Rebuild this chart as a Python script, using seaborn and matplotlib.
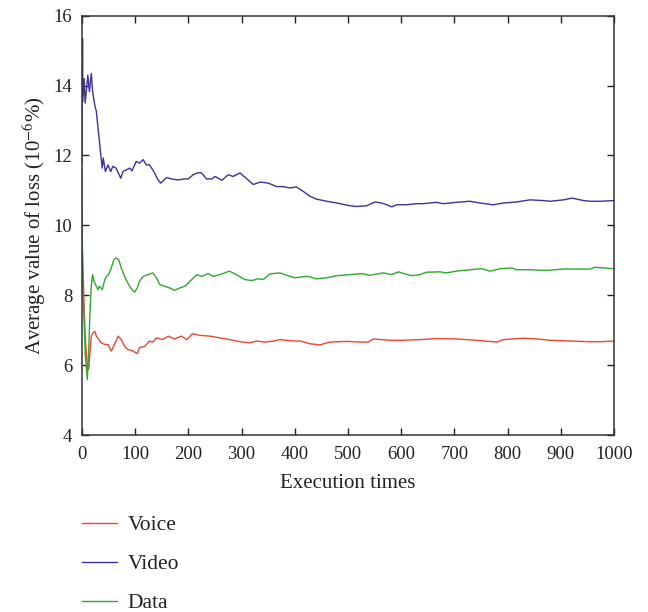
import matplotlib
matplotlib.use("Agg")
import matplotlib.pyplot as plt
import seaborn as sns
import pandas as pd

# Read-off data (execution times, average loss in 1e-6 %)
voice_x = [0, 1, 4, 6, 10, 12.5, 15, 17.5, 21, 24, 27, 31, 36, 43, 49, 55, 61, 68, 74, 80,
           86, 96, 104, 108, 118, 127, 133, 140, 152, 162, 174, 187, 197, 208, 222, 241,
           259, 278, 297, 316, 328, 344, 360, 372, 397, 410, 429, 447, 466, 498, 523, 538,
           548, 579, 598, 635, 667, 704, 742, 780, 792, 830, 855, 880, 917, 955, 974, 1000]
voice_y = [9.3, 9.26, 7.69, 6.83, 5.97, 5.88, 6.35, 6.83, 6.93, 6.97, 6.83, 6.75, 6.64, 6.59,
           6.59, 6.4, 6.59, 6.83, 6.73, 6.54, 6.45, 6.4, 6.33, 6.5, 6.54, 6.69, 6.66, 6.78,
           6.73, 6.83, 6.75, 6.83, 6.73, 6.9, 6.85, 6.83, 6.78, 6.73, 6.67, 6.64, 6.69, 6.66,
           6.69, 6.73, 6.69, 6.69, 6.61, 6.58, 6.66, 6.68, 6.66, 6.66, 6.75, 6.71, 6.71, 6.73,
           6.76, 6.75, 6.71, 6.66, 6.73, 6.77, 6.75, 6.71, 6.69, 6.67, 6.67, 6.69]

video_x = [0, 1, 1.5, 4, 6, 11, 14, 17.5, 20, 24, 27, 38, 40, 44, 49, 54, 58, 64, 73, 77, 90,
           94, 102, 108, 115, 121, 127, 135, 143, 148, 159, 168, 180, 193, 200, 209, 219,
           225, 234, 244, 250, 263, 275, 284, 297, 310, 322, 335, 350, 366, 378, 391, 403,
           416, 429, 441, 460, 479, 504, 516, 535, 551, 563, 573, 582, 592, 610, 629, 641,
           666, 679, 704, 729, 748, 773, 792, 817, 842, 867, 880, 905, 921, 943, 955, 974, 1000]
video_y = [11.8, 15.35, 13.54, 14.2, 13.5, 14.3, 13.83, 14.35, 13.83, 13.45, 13.26, 11.64,
           11.93, 11.54, 11.73, 11.54, 11.69, 11.64, 11.35, 11.54, 11.64, 11.56, 11.83, 11.78,
           11.88, 11.73, 11.73, 11.54, 11.3, 11.21, 11.37, 11.33, 11.3, 11.33, 11.33, 11.45,
           11.51, 11.5, 11.33, 11.33, 11.4, 11.29, 11.45, 11.4, 11.5, 11.33, 11.17, 11.24,
           11.21, 11.11, 11.11, 11.07, 11.1, 10.97, 10.83, 10.75, 10.69, 10.64, 10.56, 10.54,
           10.56, 10.67, 10.64, 10.59, 10.53, 10.59, 10.59, 10.62, 10.62, 10.66, 10.62, 10.66,
           10.69, 10.64, 10.59, 10.64, 10.67, 10.73, 10.71, 10.69, 10.73, 10.78, 10.71, 10.69,
           10.69, 10.71]

data_x = [0, 1, 4, 6, 10, 12.5, 15, 17.5, 20, 22.5, 27, 30, 33, 38, 43, 46, 50, 55, 60, 64,
          69, 74, 80, 86, 94, 99, 104, 108, 115, 124, 133, 140, 146, 155, 165, 174, 184, 194,
          203, 216, 225, 237, 247, 263, 277, 288, 297, 306, 319, 331, 341, 353, 372, 385, 400,
          416, 425, 441, 460, 479, 504, 526, 541, 566, 582, 595, 607, 620, 635, 648, 673, 685,
          704, 729, 751, 767, 786, 808, 817, 842, 873, 905, 930, 955, 964, 983, 1000]
data_y = [11.6, 8.45, 7.3, 6.35, 5.59, 6.35, 7.5, 8.26, 8.59, 8.4, 8.26, 8.16, 8.26, 8.16,
          8.45, 8.54, 8.59, 8.78, 9.02, 9.07, 9.02, 8.78, 8.54, 8.35, 8.16, 8.09, 8.21, 8.4,
          8.54, 8.59, 8.64, 8.5, 8.31, 8.26, 8.21, 8.14, 8.21, 8.26, 8.4, 8.59, 8.54, 8.62,
          8.54, 8.61, 8.69, 8.61, 8.53, 8.45, 8.42, 8.47, 8.45, 8.61, 8.64, 8.57, 8.5, 8.53,
          8.54, 8.47, 8.5, 8.56, 8.59, 8.62, 8.57, 8.64, 8.59, 8.67, 8.61, 8.56, 8.59, 8.66,
          8.67, 8.64, 8.69, 8.73, 8.76, 8.69, 8.76, 8.78, 8.73, 8.73, 8.71, 8.75, 8.75, 8.75,
          8.8, 8.78, 8.76]

series_names = ["Voice", "Video", "Data"]
colors = ["#ec4535", "#3b3399", "#2ea82e"]

x_ticks = list(range(0, 1001, 100))
y_ticks = list(range(4, 17, 2))

df = pd.concat([
    pd.DataFrame({"x": voice_x, "y": voice_y, "series": "Voice"}),
    pd.DataFrame({"x": video_x, "y": video_y, "series": "Video"}),
    pd.DataFrame({"x": data_x, "y": data_y, "series": "Data"}),
], ignore_index=True)

sns.set_style("ticks")
plt.rcParams["font.family"] = ["Liberation Serif", "DejaVu Serif"]
plt.rcParams["mathtext.fontset"] = "stix"

fig = plt.figure(figsize=(6.48, 6.12), dpi=100)
ax = fig.add_axes([0.1265, 0.2892, 0.821, 0.6851])

sns.lineplot(data=df, x="x", y="y", hue="series", hue_order=series_names,
             palette=colors, estimator=None, sort=False, linewidth=1.0, ax=ax, legend=False)

ax.set_xlim(0, 1000)
ax.set_ylim(4, 16)
ax.set_xticks(x_ticks)
ax.set_yticks(y_ticks)
ax.tick_params(direction="in", top=True, right=True, length=5, width=1.0,
               labelsize=13.5, colors="#222222")
ax.tick_params(axis="x", pad=8)
ax.tick_params(axis="y", pad=7)
for s in ax.spines.values():
    s.set_color("#333333")
    s.set_linewidth(1.1)
ax.set_xlabel("Execution times", fontsize=15, color="#222222", labelpad=7.5)
ax.set_ylabel("Average value of loss (10$^{-6}$%)", fontsize=15, color="#222222", labelpad=4)

handles = [plt.Line2D([], [], color=c, linewidth=1.0) for c in colors]
fig.legend(handles, series_names, loc="upper left", bbox_to_anchor=(0.0966, 0.1896),
           frameon=False, fontsize=15.5, handlelength=1.63, handletextpad=0.5,
           labelspacing=0.88, labelcolor="#222222")

fig.savefig("out.png", dpi=100)
